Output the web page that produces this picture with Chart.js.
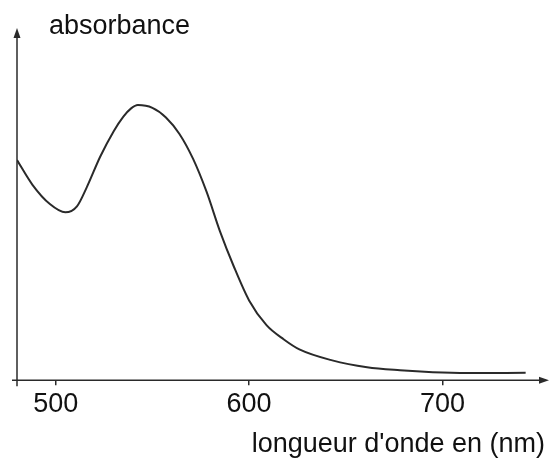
<!DOCTYPE html>
<html>
<head>
<meta charset="utf-8">
<script src="https://cdn.jsdelivr.net/npm/chart.js@4.4.1/dist/chart.umd.min.js"></script>
<style>
  html, body { margin: 0; padding: 0; background: #fff; }
  #wrap { width: 550px; height: 461px; }
</style>
</head>
<body>
<div id="wrap"><canvas id="chart"></canvas></div>
<script>
// wavelength (nm) and absorbance (arbitrary units, peak = 1)
const wavelengths = [480, 488, 497, 505, 511, 516, 523, 530, 535, 539, 542.5, 550, 557, 564, 571, 578, 585, 592, 600, 609, 618, 626, 643, 661, 678, 695, 713, 743]
const absorbance = [0.80, 0.71, 0.64, 0.61, 0.632, 0.70, 0.812, 0.905, 0.958, 0.988, 1.0, 0.99, 0.955, 0.895, 0.805, 0.685, 0.54, 0.415, 0.29, 0.20, 0.148, 0.112, 0.072, 0.047, 0.036, 0.029, 0.026, 0.027]
const xTicks = [500, 600, 700]
const yLabel = "absorbance"
const xLabel = "longueur d'onde en (nm)"

const FONT = "'Liberation Sans', Arial, sans-serif"
const INK = "#2a2a2a"

// axes with arrows + y label, drawn around the chart area
const arrowAxes = {
  id: "arrowAxes",
  afterDraw(chart) {
    const {ctx, chartArea} = chart
    const x0 = chartArea.left
    const y0 = chartArea.bottom
    ctx.save()
    ctx.strokeStyle = INK
    ctx.fillStyle = INK
    ctx.lineWidth = 1.5

    // x axis
    ctx.beginPath()
    ctx.moveTo(x0 - 5, y0)
    ctx.lineTo(chartArea.right + 1, y0)
    ctx.stroke()
    ctx.beginPath()
    ctx.moveTo(chartArea.right + 4, y0)
    ctx.lineTo(chartArea.right - 6, y0 - 3.5)
    ctx.lineTo(chartArea.right - 6, y0 + 3.5)
    ctx.closePath()
    ctx.fill()

    // y axis
    ctx.beginPath()
    ctx.moveTo(x0, y0 + 6)
    ctx.lineTo(x0, chartArea.top + 6)
    ctx.stroke()
    ctx.beginPath()
    ctx.moveTo(x0, chartArea.top)
    ctx.lineTo(x0 - 3.5, chartArea.top + 10)
    ctx.lineTo(x0 + 3.5, chartArea.top + 10)
    ctx.closePath()
    ctx.fill()

    ctx.fillStyle = "#111"
    ctx.font = "27px " + FONT
    ctx.textAlign = "left"
    ctx.textBaseline = "alphabetic"
    ctx.fillText(yLabel, x0 + 32, 34)
    ctx.restore()
  }
}

new Chart(document.getElementById("chart"), {
  type: "scatter",
  data: {
    datasets: [{
      data: wavelengths.map((w, i) => ({x: w, y: absorbance[i]})),
      showLine: true,
      borderColor: INK,
      borderWidth: 2,
      pointRadius: 0,
      cubicInterpolationMode: "monotone",
      fill: false,
    }]
  },
  options: {
    responsive: true,
    maintainAspectRatio: false,
    animation: false,
    layout: {padding: {left: 17, right: 5, top: 28, bottom: 0}},
    plugins: {legend: {display: false}, tooltip: {enabled: false}},
    scales: {
      x: {
        type: "linear",
        min: 480,
        max: 753,
        afterBuildTicks: scale => { scale.ticks = xTicks.map(v => ({value: v})) },
        grid: {display: true, drawOnChartArea: false, drawTicks: true, tickLength: 5, color: INK, lineWidth: 1.5},
        border: {display: false},
        ticks: {color: "#111", padding: 3, font: {family: FONT, size: 27, lineHeight: 1.2}},
        title: {
          display: true,
          text: xLabel,
          align: "end",
          color: "#111",
          padding: {top: 5, bottom: 0},
          font: {family: FONT, size: 27, lineHeight: 1.2},
        },
      },
      y: {
        display: false,
        min: 0,
        max: 1.28,
      },
    },
  },
  plugins: [arrowAxes],
})
</script>
</body>
</html>
